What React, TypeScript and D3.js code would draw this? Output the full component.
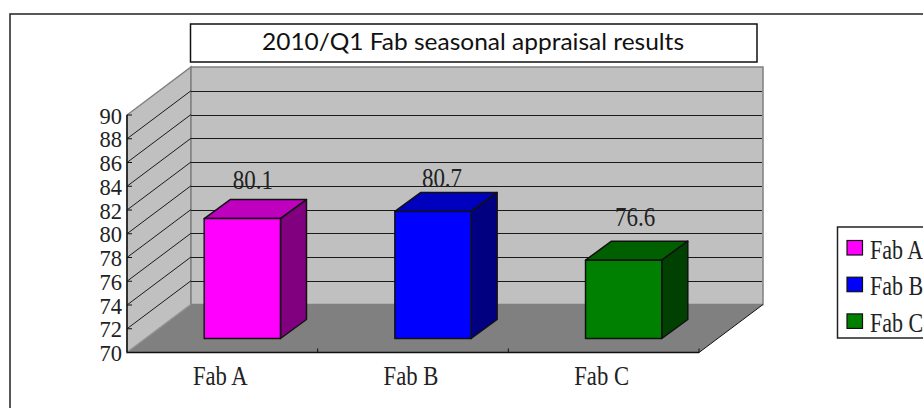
import * as d3 from "d3"

// Values
const categories = ["Fab A", "Fab B", "Fab C"]
const values = [80.1, 80.7, 76.6]
const yTicks = [70, 72, 74, 76, 78, 80, 82, 84, 86, 88, 90]
const barColors = ["#ff00ff", "#0000ff", "#008000"]
const topColors = ["#bf00bf", "#0000bf", "#006000"]
const sideColors = ["#800080", "#000080", "#004000"]
const titleText = "2010/Q1 Fab seasonal appraisal results"

// data labels do not sit at a constant distance from the bars in the original
const labelLift = [30, 24, 34]
const labelShift = [10.5, 9, 11.5]

const serif = "'Liberation Serif', serif"
const ink = "#222"

// 3D projection: front plane of the axis box, and how far back the wall sits
const depthX = 64
const depthY = 48
const barOffsetX = 20.5
const barOffsetY = 14
const barDepthX = 26
const barDepthY = 19

const y = d3.scaleLinear().domain([70, 90]).range([352.5, 115])
const x = d3.scaleBand<string>().domain(categories).range([127, 699]).paddingInner(0).paddingOuter(0)
const barWidth = x.bandwidth() * 0.4

const poly = (pts: [number, number][]) => pts.map((p) => p.join(",")).join(" ")
const crisp = (v: number) => Math.round(v) + 0.5

// the original face is narrower and taller than Liberation Serif, hence the stretch
function SerifText(props: { x: number; y: number; size: number; anchor?: string; tall?: number; children: any }) {
  return (
    <text
      transform={`translate(${props.x},${props.y}) scale(1,${props.tall ?? 1.2})`}
      textAnchor={props.anchor ?? "start"}
      fontFamily={serif}
      fontSize={props.size}
      fill={ink}
      stroke="none"
    >
      {props.children}
    </text>
  )
}

export default function App() {
  const y0 = y(70)
  const y1 = y(90)
  const xl = x.range()[0]
  const xr = x.range()[1]

  return (
    <svg
      width={923}
      height={408}
      style={{ position: "absolute", left: 0, top: 0, background: "#fff" }}
    >
      {/* outer frame runs off the right and bottom of the picture */}
      <rect x={10} y={14} width={930} height={420} fill="none" stroke="#222" strokeWidth={1.5} />

      {/* title */}
      <rect x={190.5} y={24} width={566.5} height={38} fill="#fff" stroke="#111" strokeWidth={1.5} />
      <text
        x={473}
        y={50}
        textAnchor="middle"
        fontFamily="Lato, sans-serif"
        fontSize={23.5}
        textLength={422}
        lengthAdjust="spacingAndGlyphs"
        fill="#111"
      >
        {titleText}
      </text>

      {/* walls and floor */}
      <polygon
        points={poly([[xl, y0], [xl + depthX, y0 - depthY], [xl + depthX, y1 - depthY], [xl, y1]])}
        fill="#c0c0c0"
        stroke="#808080"
        strokeWidth={1.5}
      />
      <rect
        x={xl + depthX}
        y={y1 - depthY}
        width={xr - xl}
        height={y0 - y1}
        fill="#c0c0c0"
        stroke="#808080"
        strokeWidth={1.5}
      />
      <polygon
        points={poly([[xl, y0], [xr, y0], [xr + depthX, y0 - depthY], [xl + depthX, y0 - depthY]])}
        fill="#808080"
      />
      <line x1={xl} y1={y0} x2={xl + depthX} y2={y0 - depthY} stroke="#999" />
      <line x1={xr} y1={y0} x2={xr + depthX} y2={y0 - depthY} stroke="#111" />

      {/* grid lines on side and back wall */}
      {yTicks.slice(1, -1).map((t) => (
        <g key={t} stroke="#1a1a1a" strokeWidth={1}>
          <line x1={xl} y1={y(t)} x2={xl + depthX} y2={y(t) - depthY} />
          <line x1={xl + depthX} y1={crisp(y(t) - depthY)} x2={xr + depthX - 1} y2={crisp(y(t) - depthY)} />
        </g>
      ))}

      {/* axes */}
      <line x1={xl} y1={y1} x2={xl} y2={y0} stroke="#111" strokeWidth={1.5} />
      <line x1={xl} y1={y0} x2={xr} y2={y0} stroke="#111" strokeWidth={1.5} />
      {yTicks.map((t) => (
        <g key={t}>
          <line x1={xl} y1={y(t)} x2={xl + 5} y2={y(t)} stroke="#111" />
          <SerifText x={xl - 5} y={y(t) + 8.5} size={22.5} anchor="end" tall={1}>
            {t}
          </SerifText>
        </g>
      ))}
      {categories.map((c) => (
        <g key={c}>
          <line
            x1={(x(c) as number) + x.bandwidth()}
            y1={y0}
            x2={(x(c) as number) + x.bandwidth()}
            y2={y0 - 4}
            stroke="#111"
          />
          <SerifText x={(x(c) as number) + x.bandwidth() / 2 - 2} y={385} size={22.7} anchor="middle">
            {c}
          </SerifText>
        </g>
      ))}

      {/* bars */}
      {categories.map((c, i) => {
        const left = (x(c) as number) + barOffsetX + (x.bandwidth() - barWidth) / 2 - 0.5
        const right = left + barWidth
        const base = y0 - barOffsetY
        const top = y(values[i]) - barOffsetY
        return (
          <g key={c} stroke="#111" strokeWidth={1.5} strokeLinejoin="round">
            <polygon
              points={poly([
                [left, top],
                [left + barDepthX, top - barDepthY],
                [right + barDepthX, top - barDepthY],
                [right, top],
              ])}
              fill={topColors[i]}
            />
            <polygon
              points={poly([
                [right, top],
                [right + barDepthX, top - barDepthY],
                [right + barDepthX, base - barDepthY],
                [right, base],
              ])}
              fill={sideColors[i]}
            />
            <rect x={left} y={top} width={barWidth} height={base - top} fill={barColors[i]} />
            <SerifText
              x={(left + right) / 2 + labelShift[i]}
              y={top - labelLift[i]}
              size={23}
              anchor="middle"
            >
              {values[i]}
            </SerifText>
          </g>
        )
      })}

      {/* legend, cut off by the right edge like the original */}
      <rect x={837.5} y={227} width={100} height={111} fill="#fff" stroke="#222" strokeWidth={1.5} />
      {categories.map((c, i) => (
        <g key={c}>
          <rect
            x={847}
            y={240.5 + i * 36.7}
            width={15.5}
            height={14.5}
            fill={barColors[i]}
            stroke="#111"
            strokeWidth={1.2}
          />
          <SerifText x={870} y={258.5 + i * 36.7} size={22}>
            {c}
          </SerifText>
        </g>
      ))}
    </svg>
  )
}
